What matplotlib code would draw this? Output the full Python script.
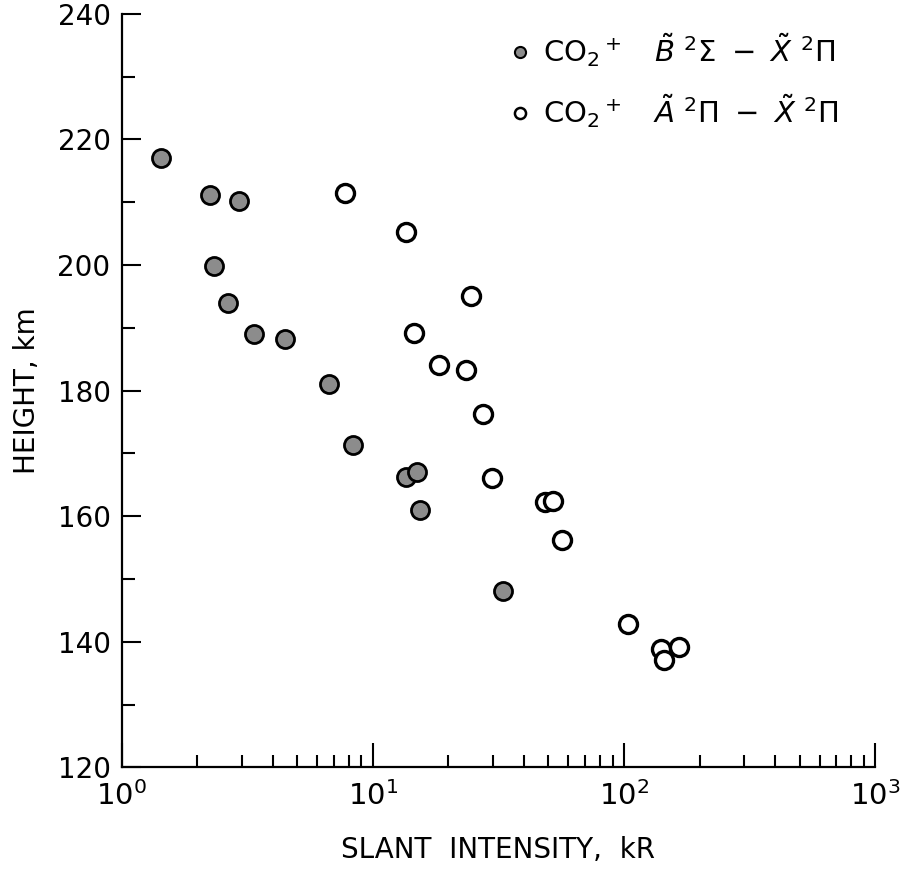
import matplotlib
matplotlib.use("Agg")
import matplotlib.pyplot as plt
from matplotlib.lines import Line2D
from matplotlib.ticker import LogLocator, MultipleLocator

# CO2+ B-X band (filled circles)
b_intensity = [1.43, 2.25, 2.92, 2.33, 2.64, 3.36, 4.47, 6.69, 8.36, 13.6, 15.0, 15.4, 33.0]
b_height = [217.0, 211.2, 210.2, 199.9, 194.0, 189.0, 188.2, 181.0, 171.4, 166.3, 167.1, 161.0, 148.1]

# CO2+ A-X band (open circles)
a_intensity = [7.77, 13.5, 24.5, 14.6, 18.3, 23.5, 27.4, 29.7, 48.4, 52.3, 56.4, 104.0, 140.0, 165.0, 144.0]
a_height = [211.4, 205.3, 195.0, 189.1, 184.0, 183.2, 176.2, 166.1, 162.2, 162.4, 156.2, 142.9, 138.8, 139.1, 137.1]

y_ticks = [120, 140, 160, 180, 200, 220, 240]

plt.rcParams['font.family'] = ['DejaVu Sans']
plt.rcParams['mathtext.fontset'] = 'dejavusans'

fig = plt.figure(figsize=(9.06, 8.69), dpi=100)
ax = fig.add_axes([0.1343, 0.117, 0.8318, 0.8672])

ax.plot(b_intensity, b_height, 'o', ms=13, mfc='#8c8c8c', mec='black', mew=2.0, ls='none')
ax.plot(a_intensity, a_height, 'o', ms=13, mfc='white', mec='black', mew=2.4, ls='none')

ax.set_xscale('log')
ax.set_xlim(1, 1000)
ax.set_ylim(120, 240)
ax.set_yticks(y_ticks)
ax.yaxis.set_minor_locator(MultipleLocator(10))
ax.xaxis.set_major_locator(LogLocator(base=10))
ax.xaxis.set_minor_locator(LogLocator(base=10, subs=range(2, 10)))

for side in ['top', 'right']:
    ax.spines[side].set_visible(False)
for side in ['left', 'bottom']:
    ax.spines[side].set_linewidth(1.6)

ax.tick_params(axis='both', which='both', direction='in', width=1.5, colors='black')
ax.tick_params(axis='y', which='major', length=14, pad=8, labelsize=20)
ax.tick_params(axis='y', which='minor', length=9)
ax.tick_params(axis='x', which='major', length=17, pad=10, labelsize=21)
ax.tick_params(axis='x', which='minor', length=9)

ax.set_xlabel('SLANT  INTENSITY,  kR', fontsize=20, labelpad=18)
ax.set_ylabel('HEIGHT, km', fontsize=20, labelpad=12)

handles = [
    Line2D([], [], marker='o', ls='none', ms=8, mfc='#8c8c8c', mec='black', mew=1.5),
    Line2D([], [], marker='o', ls='none', ms=8, mfc='white', mec='black', mew=1.8),
]
labels = [
    r'CO$_2$$^+$   $\tilde{B}\ ^2\Sigma\ -\ \tilde{X}\ ^2\Pi$',
    r'CO$_2$$^+$   $\tilde{A}\ ^2\Pi\ -\ \tilde{X}\ ^2\Pi$',
]
ax.legend(handles, labels, loc='upper left', bbox_to_anchor=(0.486, 1.0),
          frameon=False, fontsize=21, handletextpad=0.3, handlelength=1.0,
          labelspacing=0.8, borderaxespad=0.2)

fig.savefig('out.png', dpi=100)
